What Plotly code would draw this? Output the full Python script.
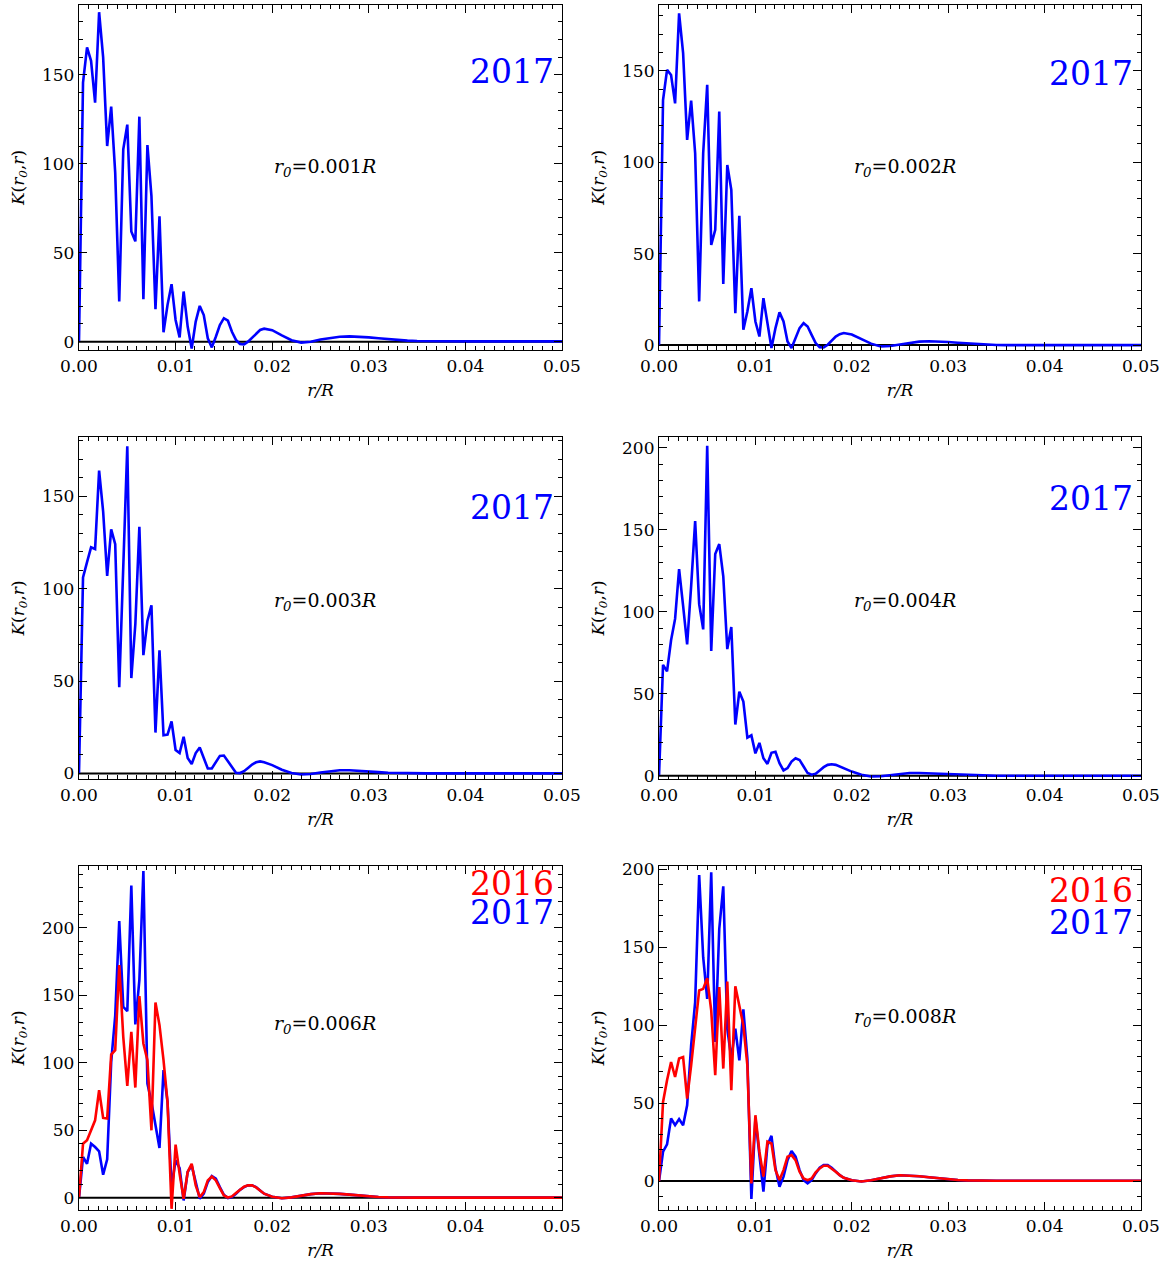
import plotly.graph_objects as go

# ---------------- data ----------------
DX = 0.05 / 120
R_FINE = [round(i * DX, 6) for i in range(47)]
R_TAIL = [0.020, 0.021, 0.022, 0.023, 0.024, 0.025, 0.026, 0.027, 0.028, 0.029,
          0.030, 0.031, 0.032, 0.033, 0.034, 0.035, 0.036, 0.037, 0.038, 0.039,
          0.040, 0.041, 0.042, 0.043, 0.044, 0.045, 0.046, 0.047, 0.048, 0.049, 0.050]
R_ALL = R_FINE + R_TAIL

K1_2017 = [0, 145.7, 165.4, 157.9, 134.4, 185.2, 159.8, 110, 132.1, 94.9,
           22.6, 108.1, 122, 62, 56.4, 126.5, 23.9, 110.5, 81.8, 18.2,
           70.5, 5.3, 20.7, 32.3, 12.2, 2.4, 28.2, 8.5, -3.8, 11.3,
           20.1, 15, 1.9, -3.2, 2.8, 9.4, 13.2, 11.8, 5.6, 1,
           -1.3, -1.5, 0, 2.4, 4.7, 6.6, 7.3,
           6.5, 3.5, 0.8, -0.5, 0, 1.2, 2.2, 2.8, 3, 2.8,
           2.4, 1.9, 1.4, 1, 0.6, 0.35, 0.25, 0.2, 0.2, 0.2,
           0.2, 0.2, 0.2, 0.2, 0.2, 0.2, 0.2, 0.2, 0.2, 0.2, 0.2]

K2_2017 = [0, 134, 150.5, 147.7, 132.2, 181.4, 159.6, 112.2, 133.7, 104.9,
           23.9, 104.9, 142.3, 54.8, 63, 127.7, 33.5, 98.5, 84.9, 17.5,
           70.7, 8.4, 18.4, 31.1, 12.9, 4.7, 25.7, 11.1, -1.6, 9.3,
           17.9, 12.9, 2, -1.6, 3.8, 9.3, 12, 10.2, 5.6, 1.1,
           -1.1, -1.3, 0.2, 2.5, 4.7, 6, 6.6,
           5.8, 3.3, 0.8, -0.7, -0.5, 0.3, 1.3, 1.9, 2.1, 2,
           1.7, 1.3, 0.9, 0.6, 0.3, 0.1, 0, 0, 0, 0,
           0, 0, 0, 0, 0, 0, 0, 0, 0, 0, 0]

K3_2017 = [0, 106, 114.3, 122.3, 121.4, 163.8, 141.7, 106.9, 132, 124,
           46.6, 110.8, 177, 51.6, 80.7, 133.4, 64, 82.5, 91, 22.1,
           66.6, 20.7, 21, 28.1, 12.7, 11, 19.8, 8.3, 5.1, 11,
           14, 8.3, 2.7, 2.7, 6.5, 9.5, 9.7, 6.5, 3, 0.4,
           0.2, 1.2, 3, 4.8, 6, 6.5, 6,
           4.5, 2, 0.2, -0.6, -0.3, 0.5, 1.3, 1.7, 1.7, 1.5,
           1.1, 0.7, 0.4, 0.2, 0.1, 0, 0, 0, 0, 0,
           0, 0, 0, 0, 0, 0, 0, 0, 0, 0, 0]

K4_2017 = [0, 67.6, 63.6, 82.6, 95.6, 126, 103.6, 80, 115.6, 155.2,
           104.6, 89.2, 201.2, 76, 135.2, 141.2, 121.6, 77.2, 90.6, 31.2,
           51.2, 45.2, 23.2, 24.6, 13.6, 20, 10.6, 7.2, 14, 14.6,
           7.6, 3.2, 4.6, 8.6, 10.6, 9.6, 5.6, 1.6, 0.6, 1.2,
           3.2, 5.2, 6.6, 7, 6.6, 5.6, 4.6,
           2.5, 0.6, -0.5, -0.3, 0.4, 1.2, 1.6, 1.6, 1.4, 1.1,
           0.7, 0.4, 0.2, 0.1, 0, 0, 0, 0, 0, 0,
           0, 0, 0, 0, 0, 0, 0, 0, 0, 0, 0]

K6_2017 = [0, 30.2, 25.2, 40.1, 37.6, 34.4, 17.1, 28.5, 100.7, 134.9,
           205.2, 141.6, 138.4, 231.4, 128.5, 161.4, 242.3, 84.7, 71, 52.5,
           36.9, 94.6, 71, 7.9, 27.7, 22, -2, 19.1, 24, 11.6,
           -0.7, 3, 11.6, 16.1, 14.1, 7.9, 2.2, -0.2, 0.5, 3,
           5.9, 7.9, 9.2, 9.2, 7.9, 5.4, 3,
           0.8, -0.3, 0.3, 1.5, 2.7, 3.3, 3.3, 2.9, 2.3, 1.6,
           1.0, 0.6, 0.3, 0.1, 0, 0.1, 0.1, 0.1, 0.1, 0.1,
           0.1, 0.1, 0.1, 0.1, 0.1, 0.1, 0.1, 0.1, 0.1, 0.1, 0.1]

K6_2016 = [0, 40.1, 42.6, 50, 57.4, 79.7, 59.2, 58.7, 106.2, 109.4,
           172.5, 119.3, 82.9, 123, 81.7, 149.5, 114.4, 102, 50, 144.8,
           128, 102, 71, -8.2, 39.4, 17.8, -0.7, 19.1, 25.2, 9.2,
           0.5, 4.2, 12.9, 15.8, 12.9, 7.2, 1.7, 0.2, 1, 3.5,
           6.2, 8.2, 9.2, 9.2, 7.7, 5.4, 3,
           0.8, -0.3, 0.3, 1.5, 2.7, 3.3, 3.3, 2.9, 2.3, 1.6,
           1.0, 0.6, 0.3, 0.1, 0, 0.1, 0.1, 0.1, 0.1, 0.1,
           0.1, 0.1, 0.1, 0.1, 0.1, 0.1, 0.1, 0.1, 0.1, 0.1, 0.1]

K8_2017 = [0, 18.8, 23.5, 40.1, 35.8, 39.7, 35.8, 48.6, 87, 114.7,
           196.2, 143.5, 116.8, 197.9, 89.1, 161.6, 188.9, 97.7, 78.5, 97.7,
           77.4, 110, 78.5, -11.5, 40.1, 16.6, -6.8, 23, 29, 8.1,
           -3.6, 2.8, 13.4, 19.2, 15.6, 7, 0.6, -1.5, 0.6, 4.9,
           8.5, 10.2, 10.2, 8.5, 6, 3.8, 2.1,
           0.5, -0.3, 0.5, 1.8, 3, 3.7, 3.6, 3.1, 2.4, 1.7,
           1.1, 0.7, 0.4, 0.2, 0.1, 0.2, 0.2, 0.2, 0.2, 0.2,
           0.2, 0.2, 0.2, 0.2, 0.2, 0.2, 0.2, 0.2, 0.2, 0.2, 0.2]

K8_2016 = [0, 50.7, 64.6, 76.3, 66.7, 78.5, 79.5, 52.9, 74.2, 99.8,
           122.2, 123.2, 130, 109.4, 67.8, 124.3, 72.1, 127.9, 58.2, 124.9,
           112.6, 99.8, 74.2, -1.5, 42.2, 18.8, 2.8, 25.2, 24.1, 7,
           0.6, 7, 15.6, 16.6, 13.4, 6, 1.7, 0.6, 1.7, 5.5,
           8.1, 9.8, 9.8, 8.1, 6, 3.8, 2.1,
           0.5, -0.3, 0.5, 1.8, 3, 3.7, 3.6, 3.1, 2.4, 1.7,
           1.1, 0.7, 0.4, 0.2, 0.1, 0.2, 0.2, 0.2, 0.2, 0.2,
           0.2, 0.2, 0.2, 0.2, 0.2, 0.2, 0.2, 0.2, 0.2, 0.2, 0.2]

R0_LABELS = ["0.001", "0.002", "0.003", "0.004", "0.006", "0.008"]
Y_RANGES = [[-4.7, 189.3], [-2.7, 186], [-3, 182], [-2, 206.5], [-9.1, 246], [-18.6, 202]]

PANELS = [
    {"2017": K1_2017},
    {"2017": K2_2017},
    {"2017": K3_2017},
    {"2017": K4_2017},
    {"2017": K6_2017, "2016": K6_2016},
    {"2017": K8_2017, "2016": K8_2016},
]

# ---------------- layout ----------------
COLORS = {"2017": "#0000FF", "2016": "#FF0000"}
FONT = "DejaVu Serif"
XDOM = [[0.0674, 0.4795], [0.5623, 0.9735]]
YDOM = [[0.7235, 0.9961], [0.3847, 0.6548], [0.0442, 0.3160]]
YEAR_POS = [
    {"2017": 0.806},
    {"2017": 0.800},
    {"2017": 0.795},
    {"2017": 0.820},
    {"2016": 0.948, "2017": 0.866},
    {"2016": 0.930, "2017": 0.837},
]
LABEL_Y = [0.53, 0.53, 0.52, 0.52, 0.54, 0.56]

fig = go.Figure()
annotations = []
shapes = []
layout = dict(
    width=1172, height=1266,
    margin=dict(l=0, r=0, t=0, b=0, autoexpand=False),
    paper_bgcolor="white", plot_bgcolor="white",
    showlegend=False,
    font=dict(family=FONT, color="black", size=17),
)

for p, series in enumerate(PANELS):
    n = p + 1
    row, col = divmod(p, 2)
    xa = "x" if n == 1 else f"x{n}"
    ya = "y" if n == 1 else f"y{n}"
    for year in ["2017", "2016"]:
        if year in series:
            fig.add_trace(go.Scatter(
                x=R_ALL, y=series[year], mode="lines",
                line=dict(color=COLORS[year], width=2.6),
                xaxis=xa, yaxis=ya, hoverinfo="skip"))
    common = dict(
        showline=True, linecolor="black", linewidth=1.3, mirror="ticks",
        ticks="inside", ticklen=8, tickwidth=1.1, tickcolor="black",
        showgrid=False, zeroline=False,
        tickfont=dict(family=FONT, size=17, color="black"),
    )
    layout[f"xaxis{n}"] = dict(
        common, domain=XDOM[col], anchor=ya, range=[0, 0.05],
        tick0=0, dtick=0.01, tickformat=".2f",
        minor=dict(ticks="inside", dtick=0.001, ticklen=4, tickwidth=1, tickcolor="black", showgrid=False),
        title=dict(text="<i>r/R</i>", font=dict(family=FONT, size=17), standoff=9),
    )
    layout[f"yaxis{n}"] = dict(
        common, domain=YDOM[row], anchor=xa, range=Y_RANGES[p],
        tick0=0, dtick=50,
        minor=dict(ticks="inside", dtick=10, ticklen=4, tickwidth=1, tickcolor="black", showgrid=False),
        title=dict(text="<i>K</i>(<i>r</i><sub><i>0</i></sub>,<i>r</i>)",
                   font=dict(family=FONT, size=17), standoff=13),
    )
    shapes.append(dict(type="line", xref=f"{xa} domain", yref=ya, x0=0, x1=1, y0=0, y1=0,
                       line=dict(color="black", width=2), layer="below"))
    annotations.append(dict(
        xref=f"{xa} domain", yref=f"{ya} domain", x=0.51, y=LABEL_Y[p],
        text=f"<i>r</i><sub><i>0</i></sub>={R0_LABELS[p]}<i>R</i>",
        showarrow=False, font=dict(family=FONT, size=19, color="black"),
        xanchor="center", yanchor="middle"))
    for year, yy in YEAR_POS[p].items():
        annotations.append(dict(
            xref=f"{xa} domain", yref=f"{ya} domain", x=0.988, y=yy,
            text=year, showarrow=False,
            font=dict(family=FONT, size=33, color=COLORS[year]),
            xanchor="right", yanchor="middle"))

layout["annotations"] = annotations
layout["shapes"] = shapes
fig.update_layout(**layout)
fig.write_html("out.html",
               config={"displayModeBar": False},
               post_script="document.body.style.margin='0';document.body.style.overflow='hidden';")
